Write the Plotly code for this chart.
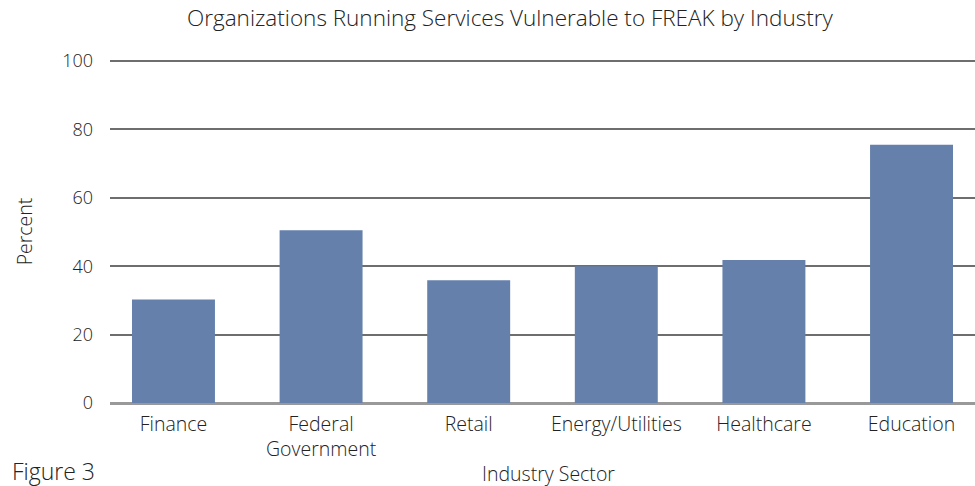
import plotly.graph_objects as go

categories = ["Finance", "Federal<br>Government", "Retail", "Energy/Utilities", "Healthcare", "Education"]
percent = [30.3, 50.5, 35.9, 40.0, 41.8, 75.5]
y_ticks = [0, 20, 40, 60, 80, 100]

font_family = "Open Sans, Lato, sans-serif"
bar_color = "#6581ab"
text_color = "#222222"

fig = go.Figure()
fig.add_trace(go.Bar(
    x=list(range(len(categories))),
    y=percent,
    marker=dict(color=bar_color, line=dict(width=0)),
    hoverinfo="y",
))

fig.update_layout(
    width=975, height=486,
    margin=dict(l=110, r=0, t=60, b=83, pad=0),
    paper_bgcolor="white", plot_bgcolor="white",
    bargap=0.438,
    showlegend=False,
    font=dict(family=font_family, color=text_color, weight=300),
    title=dict(
        text="Organizations Running Services Vulnerable to FREAK by Industry",
        x=0.523, xanchor="center", y=0.962, yanchor="middle",
        font=dict(size=22.5, color=text_color, family=font_family, weight=300),
    ),
    xaxis=dict(
        range=[-0.43, 5.43],
        tickmode="array",
        tickvals=list(range(len(categories))),
        ticktext=categories,
        tickfont=dict(size=19.5, color=text_color, weight=300),
        showgrid=False, zeroline=False, showline=False,
        ticks="", ticklen=0, ticklabelstandoff=7,
    ),
    yaxis=dict(
        range=[0, 100.3],
        tickmode="array",
        tickvals=y_ticks,
        tickfont=dict(size=18, color=text_color, weight=300),
        showgrid=True, gridcolor="#6e6e6e", gridwidth=1.5,
        zeroline=True, zerolinecolor="#999999", zerolinewidth=2.5,
        showline=False, ticks="", ticklabelstandoff=16,
        title=dict(text="Percent", font=dict(size=19.5, color=text_color, weight=300), standoff=24),
    ),
    annotations=[
        dict(
            text="Industry Sector", xref="paper", yref="paper",
            x=0.5075, y=-0.206, xanchor="center", yanchor="middle",
            showarrow=False, font=dict(size=19.5, color=text_color, family=font_family, weight=300),
        ),
        dict(
            text="Figure 3", xref="paper", yref="paper",
            x=-0.1156, y=-0.197, xanchor="left", yanchor="middle",
            showarrow=False, font=dict(size=23, color=text_color, family=font_family, weight=300),
        ),
    ],
)

fig.write_html(
    "out.html",
    config={"displayModeBar": False},
    post_script="document.body.style.margin='0px';",
)
